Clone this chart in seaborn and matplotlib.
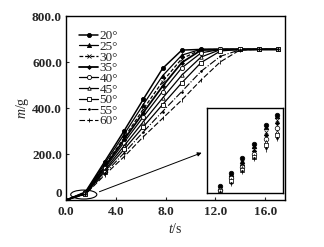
import matplotlib
matplotlib.use("Agg")
import matplotlib.pyplot as plt
from matplotlib.patches import Ellipse
import seaborn as sns
import pandas as pd

# ---- data ----
t = [0, 1.55, 3.1, 4.65, 6.2, 7.75, 9.3, 10.85, 12.4, 13.95, 15.5, 17.05]
labels = ["20°", "25°", "30°", "35°", "40°", "45°", "50°", "55°", "60°"]
m20 = [0, 35, 167, 300, 438, 572, 652, 655, 655, 655, 655, 655]
m25 = [0, 33, 158, 285, 415, 540, 630, 656, 655, 655, 655, 655]
m30 = [0, 32, 150, 270, 395, 515, 615, 654, 655, 655, 655, 655]
m35 = [0, 31, 145, 262, 380, 495, 598, 652, 655, 655, 655, 655]
m40 = [0, 30, 138, 250, 362, 472, 575, 640, 655, 655, 655, 655]
m45 = [0, 28, 130, 235, 340, 443, 543, 622, 654, 655, 655, 655]
m50 = [0, 27, 124, 220, 318, 415, 510, 598, 648, 655, 655, 655]
m55 = [0, 26, 116, 204, 296, 385, 472, 560, 625, 653, 655, 655]
m60 = [0, 25, 109, 188, 275, 355, 435, 522, 601, 652, 655, 655]
series = [m20, m25, m30, m35, m40, m45, m50, m55, m60]

# inset (zoom of early stage, arbitrary units)
inset_x = [1.2, 2.2, 3.2, 4.3, 5.4, 6.4]
i20 = [8, 24, 41, 58, 80, 92]
i25 = [6, 22, 38, 55, 78, 90]
i30 = [5, 20, 36, 52, 72, 86]
i35 = [4, 18, 33, 49, 68, 82]
i40 = [3, 17, 31, 46, 63, 76]
i45 = [2, 15, 29, 44, 60, 72]
i50 = [2, 14, 27, 42, 56, 68]
i55 = [1, 12, 26, 41, 53, 65]
i60 = [1, 11, 25, 40, 51, 63]
inset_series = [i20, i25, i30, i35, i40, i45, i50, i55, i60]

xticks = [0.0, 4.0, 8.0, 12.0, 16.0]
xticklabels = ["0.0", "4.0", "8.0", "12.0", "16.0"]
yticks = [0, 200, 400, 600, 800]
yticklabels = ["0", "200.0", "400.0", "600.0", "800.0"]

# ---- styles ----
markers = ["o", "^", "x", "D", "o", "^", "s", ".", "|"]
faces = ["k", "k", "k", "k", "white", "white", "white", "k", "k"]
lstyles = ["-", "-", (0, (3, 1.5)), "-", "-", "-", "-", "-.", (0, (5, 2))]
lwidths = [1.1, 0.9, 0.9, 1.3, 0.9, 0.9, 0.9, 0.8, 0.8]
msizes = [3.0, 3.0, 2.5, 2.0, 3.0, 2.5, 3.0, 2.5, 2.5]

sns.set_style("ticks")
plt.rcParams["font.family"] = ["Liberation Serif", "DejaVu Serif"]
plt.rcParams["mathtext.fontset"] = "custom"
plt.rcParams["mathtext.it"] = "Liberation Serif:italic"
plt.rcParams["mathtext.rm"] = "Liberation Serif"

fig = plt.figure(figsize=(3.24, 2.47), dpi=100)
ax = fig.add_axes([0.204, 0.19, 0.676, 0.745])

for lab, vals, mk, fc, ls, lw, ms in zip(labels, series, markers, faces, lstyles, lwidths, msizes):
    df = pd.DataFrame({"t": t, "m": vals})
    sns.lineplot(data=df, x="t", y="m", ax=ax, color="k", marker=mk, markerfacecolor=fc,
                 markeredgecolor="k", markeredgewidth=0.6, markersize=ms,
                 linestyle=ls, linewidth=lw, label=lab)

ax.set_xlim(0, 17.6)
ax.set_ylim(0, 800)
ax.set_xticks(xticks)
ax.set_xticklabels(xticklabels)
ax.set_yticks(yticks)
ax.set_yticklabels(yticklabels)
ax.tick_params(direction="in", length=2.5, width=0.8, labelsize=9.5)
ax.tick_params(axis="x", pad=4)
ax.tick_params(axis="y", pad=3)
for lbl in ax.get_xticklabels() + ax.get_yticklabels():
    lbl.set_fontweight("bold")
# lift the y "0" label slightly so it sits clear of the x "0.0"
ax.get_yticklabels()[0].set_verticalalignment("bottom")
for s in ax.spines.values():
    s.set_linewidth(1.0)
    s.set_color("k")
ax.set_xlabel("$t$/s", fontsize=10, labelpad=3)
ax.set_ylabel("$m$/g", fontsize=10, labelpad=1)

leg = ax.legend(loc="upper left", bbox_to_anchor=(0.03, 0.96), frameon=False,
                fontsize=9.5, handlelength=1.4, handletextpad=0.15, labelspacing=-0.12,
                borderaxespad=0.1)

# ellipse marking the early stage and arrow to inset
ax.add_patch(Ellipse((1.42, 24), 2.1, 39, fill=False, edgecolor="k", linewidth=0.8, zorder=5))
ax.annotate("", xy=(11.1, 210), xytext=(2.47, 32),
            arrowprops=dict(arrowstyle="-|>", color="k", lw=0.7, mutation_scale=6))

# inset
iax = fig.add_axes([0.639, 0.219, 0.235, 0.344])
for vals, mk, fc, ms in zip(inset_series, markers, faces, msizes):
    sns.scatterplot(x=inset_x, y=vals, ax=iax, marker=mk, color="k",
                    facecolor=fc if mk not in ("x", "|", ".") else "k",
                    edgecolor="k", s=(ms * 1.1) ** 2, linewidth=0.5, legend=False)
iax.set_xlim(0, 7)
iax.set_ylim(0, 100)
iax.set_xticks([])
iax.set_yticks([])
for s in iax.spines.values():
    s.set_linewidth(1.0)
    s.set_color("k")

fig.savefig("out.png", dpi=100)
